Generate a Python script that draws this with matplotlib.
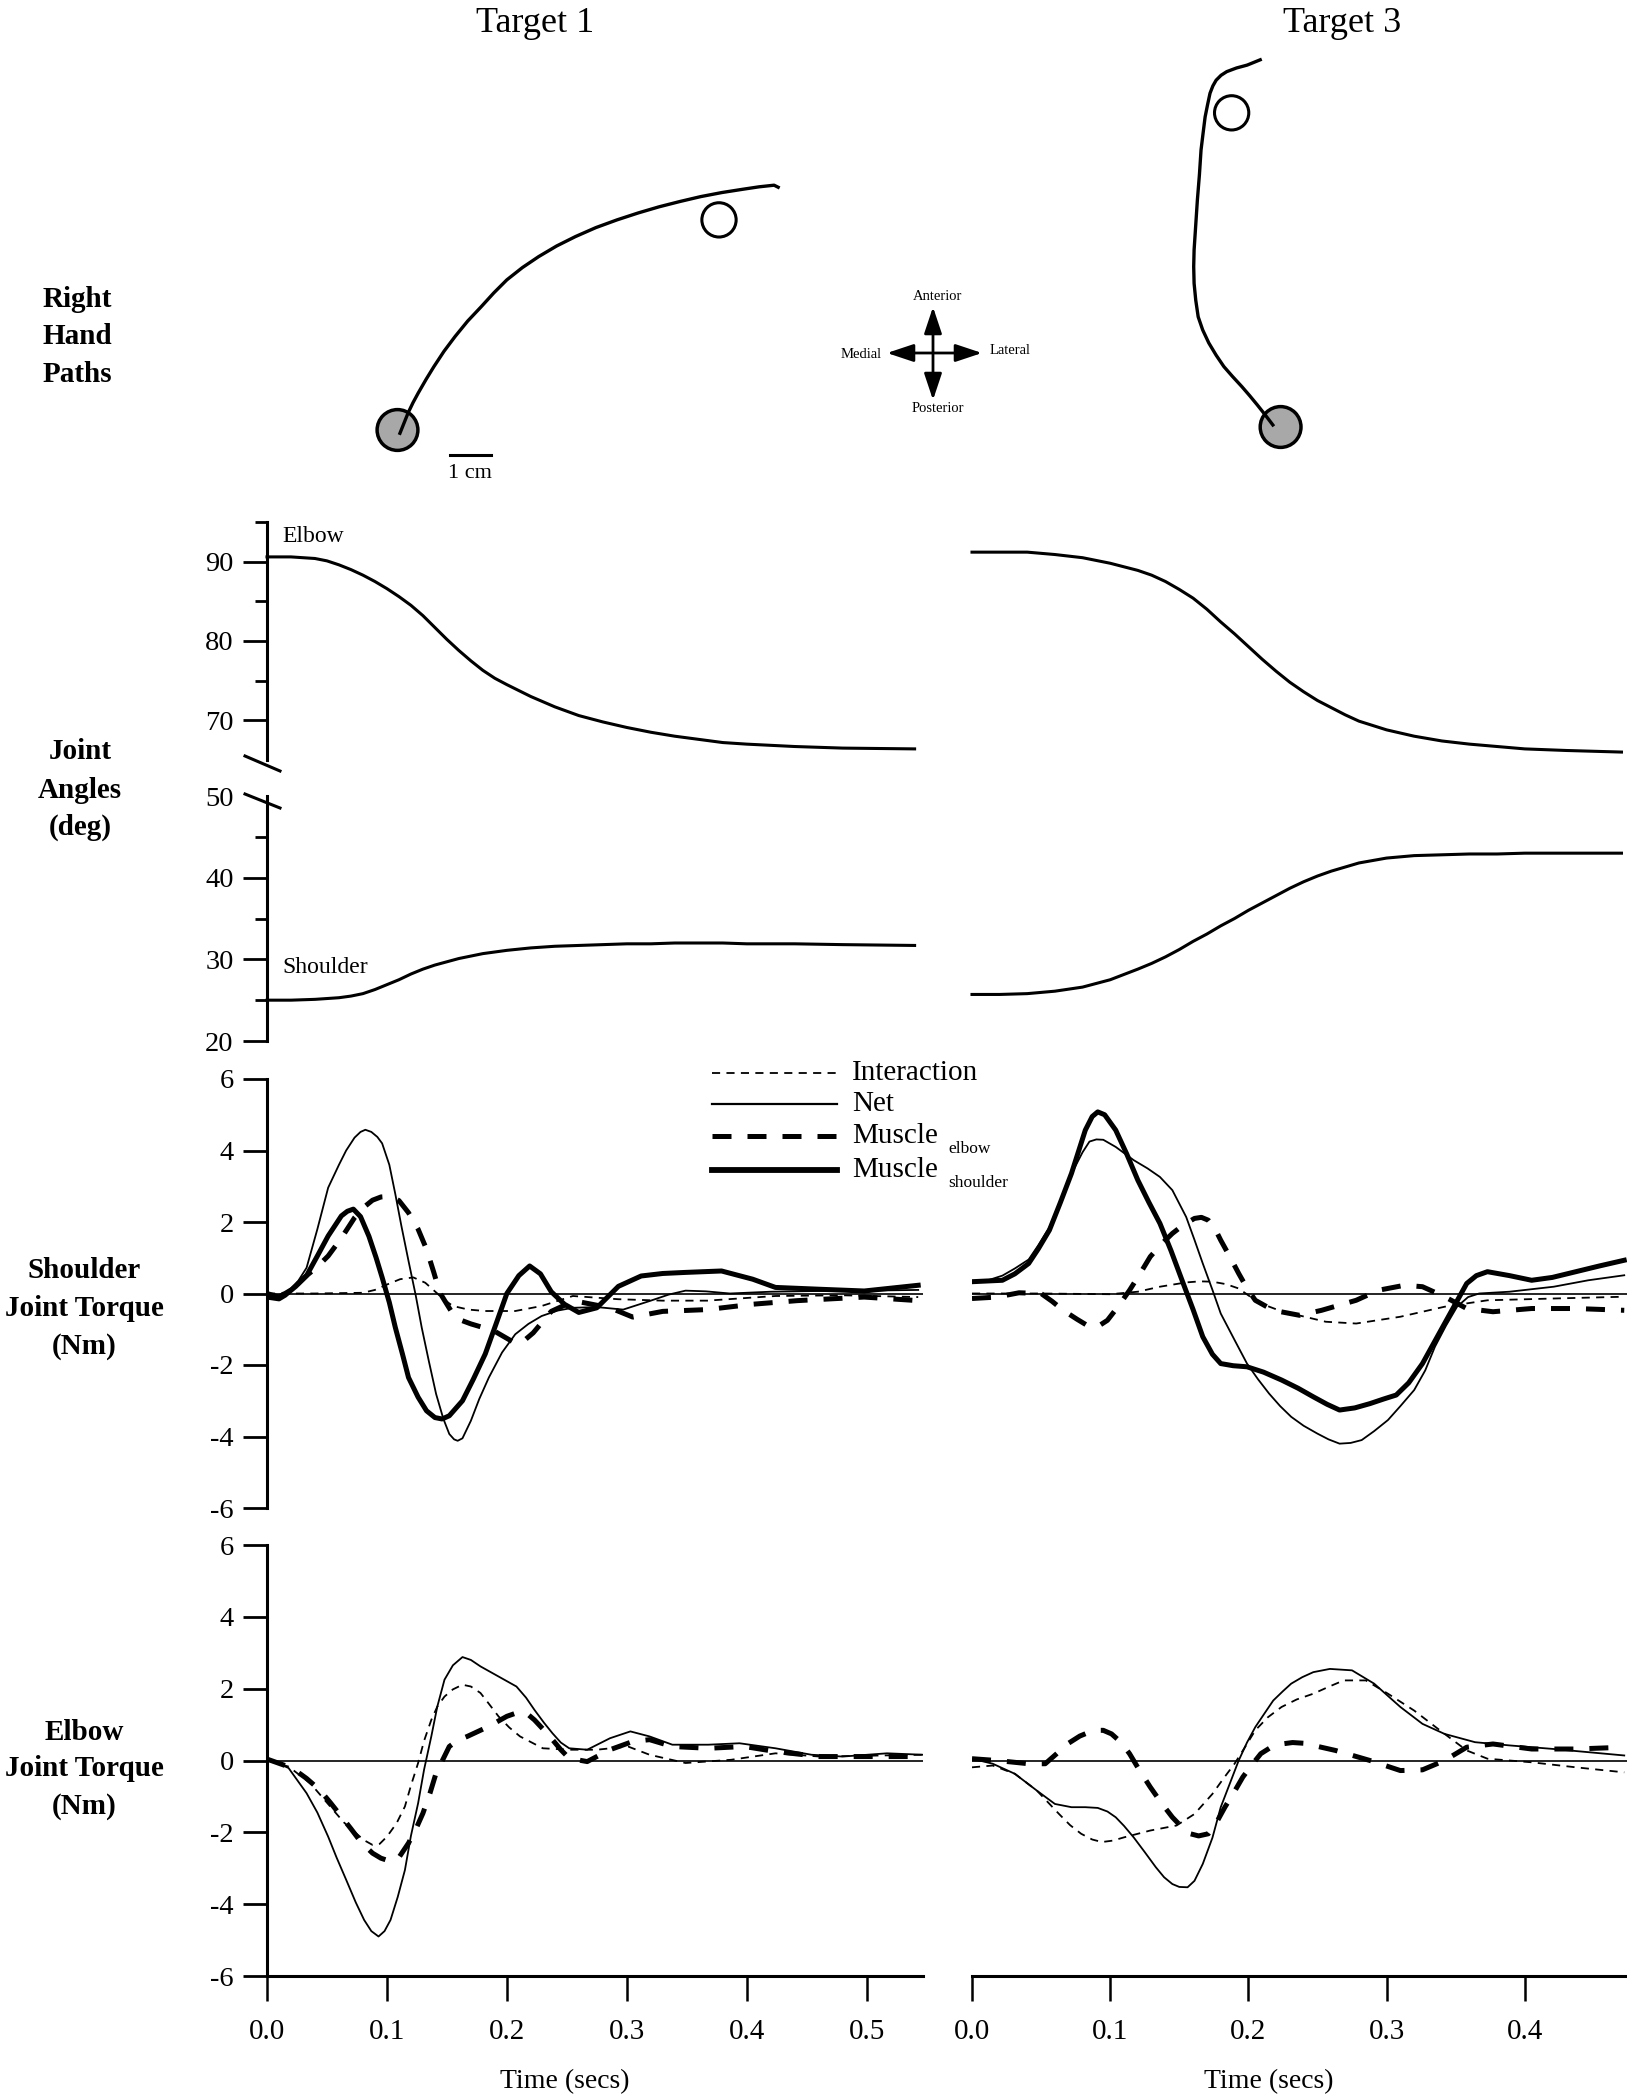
import matplotlib.pyplot as plt
import numpy as np
from matplotlib.lines import Line2D
from matplotlib.patches import Circle, FancyArrowPatch

plt.rcParams['font.family'] = ['Liberation Serif', 'DejaVu Serif']
plt.rcParams['axes.unicode_minus'] = False

W, H = 1627, 2100

# ---------------- data ----------------
# hand paths, cm relative to the start circle (x lateral, y anterior)
pathL_x = [0.06, 0.16, 0.26, 0.38, 0.51, 0.70, 0.89, 1.14, 1.41, 1.72, 2.05, 2.36, 2.68, 3.06, 3.46, 3.90, 4.36, 4.86, 5.38, 5.90, 6.41, 6.92, 7.43, 7.95, 8.46, 8.86, 9.23, 9.33]
pathL_y = [-0.08, 0.17, 0.42, 0.67, 0.91, 1.24, 1.55, 1.93, 2.29, 2.67, 3.02, 3.36, 3.68, 3.98, 4.25, 4.51, 4.74, 4.96, 5.15, 5.32, 5.47, 5.60, 5.72, 5.82, 5.90, 5.96, 6.00, 5.95]
targetL = (7.88, 5.15)
pathR_x = [-0.19, -0.38, -0.57, -0.76, -0.95, -1.18, -1.39, -1.58, -1.76, -1.91, -2.02, -2.08, -2.12, -2.13, -2.12, -2.08, -2.04, -1.99, -1.95, -1.90, -1.85, -1.79, -1.73, -1.66, -1.58, -1.46, -1.32, -1.08, -0.82, -0.50]
pathR_y = [0.05, 0.30, 0.54, 0.77, 0.99, 1.24, 1.48, 1.76, 2.06, 2.38, 2.70, 3.11, 3.52, 3.93, 4.34, 4.95, 5.56, 6.18, 6.79, 7.20, 7.60, 7.90, 8.18, 8.36, 8.50, 8.62, 8.71, 8.80, 8.87, 9.00]
targetR = (-1.20, 7.70)

# joint angles (deg)
t_angL = [0, .02, .04, .05, .06, .07, .08, .09, .10, .11, .12, .13, .14, .15, .16, .17, .18, .19, .20, .22, .24, .26, .28, .30, .32, .34, .36, .38, .40, .44, .48, .54]
elbowL = [90.6, 90.6, 90.4, 90.1, 89.6, 89.0, 88.3, 87.5, 86.6, 85.6, 84.5, 83.2, 81.7, 80.2, 78.8, 77.5, 76.3, 75.3, 74.5, 73.0, 71.7, 70.6, 69.8, 69.1, 68.5, 68.0, 67.6, 67.2, 67.0, 66.7, 66.5, 66.4]
shoulderL = [25.0, 25.0, 25.1, 25.2, 25.3, 25.5, 25.8, 26.3, 26.9, 27.5, 28.2, 28.8, 29.3, 29.7, 30.1, 30.4, 30.7, 30.9, 31.1, 31.4, 31.6, 31.7, 31.8, 31.9, 31.9, 32.0, 32.0, 32.0, 31.9, 31.9, 31.8, 31.7]
t_angR = [0, .02, .04, .06, .08, .10, .12, .13, .14, .15, .16, .17, .18, .19, .20, .21, .22, .23, .24, .25, .26, .27, .28, .30, .32, .34, .36, .38, .40, .43, .47]
elbowR = [91.2, 91.2, 91.2, 90.9, 90.5, 89.8, 88.9, 88.3, 87.5, 86.5, 85.4, 84.0, 82.4, 80.9, 79.3, 77.7, 76.2, 74.8, 73.6, 72.5, 71.6, 70.7, 69.9, 68.8, 68.0, 67.4, 67.0, 66.7, 66.4, 66.2, 66.0]
shoulderR = [25.7, 25.7, 25.8, 26.1, 26.6, 27.5, 28.8, 29.5, 30.3, 31.2, 32.2, 33.1, 34.1, 35.0, 36.0, 36.9, 37.8, 38.7, 39.5, 40.2, 40.8, 41.3, 41.8, 42.4, 42.7, 42.8, 42.9, 42.9, 43.0, 43.0, 43.0]

# shoulder joint torque (Nm), target 1
t_net_sL = [0, .01, .02, .026, .033, .042, .051, .06, .066, .073, .078, .082, .087, .092, .096, .102, .107, .112, .118, .124, .129, .135, .141, .147, .152, .156, .159, .163, .170, .177, .185, .196, .207, .218, .229, .242, .255, .275, .297, .320, .335, .349, .366, .386, .42, .46, .50, .543]
net_sL = [-0.1, -0.05, 0.15, 0.35, 0.72, 1.8, 2.96, 3.6, 4.0, 4.36, 4.52, 4.58, 4.52, 4.38, 4.2, 3.6, 2.78, 1.9, 0.91, -0.05, -0.95, -1.9, -2.81, -3.5, -3.93, -4.08, -4.12, -4.05, -3.56, -2.95, -2.35, -1.65, -1.14, -0.85, -0.63, -0.48, -0.4, -0.38, -0.45, -0.2, -0.03, 0.08, 0.06, 0.0, 0.05, 0.07, 0.08, 0.1]
t_msh_sL = [0, .01, .015, .024, .033, .042, .051, .062, .067, .072, .078, .085, .091, .096, .102, .107, .113, .118, .126, .133, .14, .146, .152, .163, .172, .182, .191, .200, .210, .219, .228, .237, .248, .260, .275, .293, .312, .33, .349, .379, .405, .424, .46, .498, .543]
msh_sL = [-0.1, -0.15, -0.05, 0.2, 0.5, 1.05, 1.61, 2.17, 2.3, 2.36, 2.15, 1.6, 1.0, 0.45, -0.25, -0.95, -1.7, -2.35, -2.9, -3.28, -3.47, -3.51, -3.42, -3.0, -2.4, -1.69, -0.85, 0.0, 0.5, 0.77, 0.55, 0.05, -0.3, -0.53, -0.4, 0.2, 0.49, 0.56, 0.59, 0.63, 0.4, 0.17, 0.12, 0.07, 0.23]
t_mel_sL = [0, .01, .022, .033, .042, .051, .062, .073, .081, .088, .095, .103, .11, .118, .126, .133, .139, .144, .15, .155, .162, .170, .189, .208, .215, .222, .23, .237, .248, .260, .286, .305, .330, .367, .405, .442, .498, .543]
mel_sL = [0.0, -0.1, 0.15, 0.5, 0.75, 1.05, 1.55, 2.12, 2.42, 2.61, 2.7, 2.72, 2.6, 2.26, 1.8, 1.24, 0.6, 0.03, -0.3, -0.57, -0.75, -0.85, -1.04, -1.41, -1.3, -1.1, -0.78, -0.5, -0.33, -0.23, -0.4, -0.66, -0.5, -0.45, -0.3, -0.2, -0.1, -0.2]
t_int_sL = [0, .04, .08, .09, .10, .111, .122, .132, .141, .148, .155, .168, .182, .207, .229, .255, .293, .33, .367, .424, .48, .543]
int_sL = [0.0, 0.0, 0.02, 0.1, 0.25, 0.4, 0.45, 0.3, 0.03, -0.18, -0.35, -0.45, -0.49, -0.49, -0.35, -0.07, -0.16, -0.2, -0.2, -0.07, -0.05, -0.1]

# shoulder joint torque (Nm), target 3
t_net_sR = [0, .01, .022, .031, .041, .048, .056, .064, .072, .08, .085, .09, .095, .104, .117, .127, .136, .145, .155, .161, .167, .174, .18, .19, .199, .207, .215, .223, .231, .24, .25, .258, .266, .274, .282, .291, .301, .31, .32, .328, .335, .343, .351, .359, .367, .389, .421, .446, .472]
net_sR = [0.33, 0.35, 0.5, 0.7, 0.95, 1.35, 1.85, 2.6, 3.35, 3.95, 4.25, 4.31, 4.3, 4.1, 3.73, 3.5, 3.26, 2.89, 2.14, 1.5, 0.84, 0.1, -0.56, -1.3, -1.96, -2.4, -2.8, -3.15, -3.45, -3.7, -3.92, -4.08, -4.2, -4.18, -4.1, -3.85, -3.54, -3.15, -2.7, -2.15, -1.49, -0.9, -0.37, -0.1, 0.0, 0.05, 0.19, 0.37, 0.51]
t_msh_sR = [0, .022, .031, .041, .048, .056, .064, .072, .082, .087, .091, .096, .104, .112, .12, .128, .136, .144, .152, .16, .167, .174, .18, .189, .199, .211, .224, .236, .247, .257, .266, .277, .288, .298, .307, .316, .326, .334, .342, .35, .358, .365, .373, .389, .405, .42, .437, .454, .472]
msh_sR = [0.33, 0.37, 0.55, 0.84, 1.25, 1.77, 2.55, 3.36, 4.57, 4.95, 5.08, 5.0, 4.57, 3.9, 3.17, 2.55, 1.96, 1.2, 0.37, -0.45, -1.21, -1.7, -1.96, -2.02, -2.05, -2.2, -2.42, -2.65, -2.89, -3.1, -3.26, -3.2, -3.08, -2.95, -2.84, -2.5, -1.96, -1.4, -0.84, -0.28, 0.28, 0.5, 0.61, 0.5, 0.37, 0.45, 0.61, 0.77, 0.93]
t_mel_sR = [0, .018, .034, .05, .058, .066, .076, .085, .092, .098, .106, .114, .122, .129, .137, .145, .153, .161, .166, .171, .176, .18, .187, .193, .199, .205, .218, .237, .253, .278, .294, .313, .326, .342, .358, .377, .405, .437, .472]
mel_sR = [-0.14, -0.1, 0.02, 0.0, -0.22, -0.47, -0.72, -0.93, -0.9, -0.75, -0.35, 0.09, 0.58, 1.03, 1.38, 1.68, 1.92, 2.1, 2.13, 2.05, 1.8, 1.49, 1.0, 0.56, 0.15, -0.19, -0.47, -0.61, -0.47, -0.19, 0.09, 0.23, 0.19, -0.09, -0.42, -0.51, -0.42, -0.42, -0.47]
t_int_sR = [0, .05, .10, .12, .136, .155, .165, .174, .184, .193, .201, .209, .22, .231, .256, .278, .31, .342, .373, .421, .472]
int_sR = [0.0, 0.0, -0.02, 0.05, 0.19, 0.31, 0.34, 0.33, 0.26, 0.14, -0.08, -0.28, -0.44, -0.56, -0.79, -0.84, -0.65, -0.37, -0.19, -0.14, -0.09]

# elbow joint torque (Nm), target 1
t_net_eL = [0, .018, .033, .042, .051, .058, .066, .074, .081, .087, .093, .098, .103, .109, .115, .12, .126, .131, .137, .142, .148, .155, .163, .17, .178, .193, .208, .216, .223, .231, .238, .245, .252, .267, .286, .303, .319, .338, .368, .394, .424, .454, .48, .517, .547]
net_eL = [0.06, -0.21, -0.91, -1.45, -2.12, -2.7, -3.32, -3.95, -4.44, -4.75, -4.9, -4.75, -4.44, -3.8, -3.05, -2.1, -1.19, -0.25, 0.67, 1.5, 2.25, 2.65, 2.88, 2.8, 2.62, 2.34, 2.06, 1.75, 1.41, 1.05, 0.76, 0.5, 0.34, 0.3, 0.62, 0.81, 0.67, 0.44, 0.44, 0.48, 0.34, 0.16, 0.11, 0.2, 0.16]
t_int_eL = [0, .018, .036, .045, .055, .064, .074, .081, .088, .094, .10, .108, .115, .12, .126, .131, .137, .142, .148, .155, .163, .17, .178, .185, .193, .202, .211, .23, .252, .275, .301, .319, .349, .387, .424, .461, .547]
int_eL = [0.0, -0.17, -0.63, -0.98, -1.37, -1.72, -2.02, -2.22, -2.35, -2.32, -2.12, -1.75, -1.28, -0.7, -0.07, 0.55, 1.13, 1.5, 1.78, 1.98, 2.11, 2.06, 1.88, 1.58, 1.23, 0.92, 0.67, 0.34, 0.3, 0.3, 0.39, 0.16, -0.07, 0.02, 0.2, 0.11, 0.16]
t_mel_eL = [0, .021, .033, .044, .053, .062, .07, .077, .083, .088, .095, .103, .11, .118, .124, .13, .136, .141, .147, .152, .159, .167, .185, .2, .211, .217, .223, .23, .238, .245, .252, .267, .286, .305, .319, .338, .368, .398, .424, .461, .498, .547]
mel_eL = [0.04, -0.21, -0.5, -0.82, -1.18, -1.56, -1.9, -2.21, -2.42, -2.58, -2.72, -2.81, -2.7, -2.3, -1.92, -1.47, -0.9, -0.35, 0.05, 0.39, 0.56, 0.67, 0.95, 1.23, 1.36, 1.3, 1.13, 0.88, 0.58, 0.3, 0.06, -0.03, 0.3, 0.53, 0.58, 0.39, 0.34, 0.39, 0.25, 0.11, 0.11, 0.11]

# elbow joint torque (Nm), target 3
t_net_eR = [0, .015, .031, .047, .06, .072, .082, .091, .098, .104, .11, .117, .125, .133, .139, .145, .15, .156, .161, .167, .174, .18, .187, .193, .199, .205, .212, .218, .225, .231, .239, .247, .259, .275, .291, .31, .326, .342, .364, .389, .421, .472]
net_eR = [0.05, -0.09, -0.37, -0.84, -1.21, -1.3, -1.3, -1.32, -1.42, -1.58, -1.82, -2.14, -2.55, -2.97, -3.25, -3.44, -3.52, -3.53, -3.35, -2.88, -2.15, -1.3, -0.6, 0.0, 0.5, 0.93, 1.33, 1.67, 1.93, 2.14, 2.32, 2.46, 2.55, 2.51, 2.14, 1.49, 1.02, 0.74, 0.51, 0.42, 0.32, 0.14]
t_int_eR = [0, .015, .031, .047, .063, .071, .079, .087, .094, .102, .11, .129, .148, .161, .174, .182, .19, .198, .205, .214, .224, .235, .247, .258, .269, .285, .301, .32, .342, .358, .373, .405, .437, .472]
int_eR = [-0.19, -0.14, -0.37, -0.84, -1.49, -1.8, -2.04, -2.2, -2.27, -2.23, -2.14, -1.95, -1.81, -1.49, -0.93, -0.5, -0.09, 0.4, 0.84, 1.2, 1.49, 1.7, 1.86, 2.05, 2.23, 2.23, 1.86, 1.39, 0.74, 0.28, 0.05, -0.05, -0.19, -0.33]
t_mel_eR = [0, .018, .041, .053, .061, .069, .078, .088, .095, .101, .108, .114, .121, .129, .137, .145, .152, .158, .164, .171, .177, .183, .19, .196, .203, .209, .216, .224, .232, .24, .263, .288, .31, .326, .342, .358, .377, .405, .437, .472]
mel_eR = [0.05, 0.0, -0.09, -0.09, 0.18, 0.46, 0.68, 0.84, 0.84, 0.74, 0.5, 0.19, -0.26, -0.74, -1.18, -1.58, -1.86, -2.04, -2.1, -2.04, -1.72, -1.3, -0.86, -0.46, -0.1, 0.19, 0.36, 0.46, 0.5, 0.48, 0.28, 0.0, -0.28, -0.26, 0.0, 0.37, 0.46, 0.32, 0.32, 0.37]

xticks_L = [0.0, 0.1, 0.2, 0.3, 0.4, 0.5]
xticks_R = [0.0, 0.1, 0.2, 0.3, 0.4]

# ---------------- styles ----------------
NET = dict(color='k', lw=1.3, ls='-')
INT = dict(color='k', lw=1.3, ls=(0, (4.5, 3.5)))
MEL = dict(color='k', lw=3.6, ls=(0, (3.8, 3.2)))
MSH = dict(color='k', lw=3.6, ls='-')
ANG = dict(color='k', lw=2.2)

fig = plt.figure(figsize=(W / 100, H / 100), dpi=100)


def box(x0, y0, x1, y1):
    # pixel box, top-left origin -> figure rect
    return [x0 / W, 1 - y1 / H, (x1 - x0) / W, (y1 - y0) / H]


def fp(x, y):
    return x / W, 1 - y / H


def clean(ax, left=True, bottom=False):
    for s in ['top', 'right']:
        ax.spines[s].set_visible(False)
    ax.spines['left'].set_visible(left)
    ax.spines['bottom'].set_visible(bottom)
    ax.spines['left'].set_linewidth(2.2)
    ax.spines['bottom'].set_linewidth(2.2)
    ax.patch.set_alpha(0)
    ax.tick_params(axis='y', which='major', length=17, width=2, labelsize=20.5, pad=7, left=left, labelleft=left)
    ax.tick_params(axis='y', which='minor', length=9, width=2, left=left)
    ax.tick_params(axis='x', length=18, width=1.8, labelsize=21, pad=13, bottom=bottom, labelbottom=bottom)


# columns: left (target 1) and right (target 3)
cols = [dict(x0=267, x1=923, xmax=0.547, ticks=xticks_L, left=True),
        dict(x0=972, x1=1627, xmax=0.474, ticks=xticks_R, left=False)]

angles = [(t_angL, elbowL, shoulderL), (t_angR, elbowR, shoulderR)]
sh_tq = [(t_int_sL, int_sL, t_net_sL, net_sL, t_mel_sL, mel_sL, t_msh_sL, msh_sL),
         (t_int_sR, int_sR, t_net_sR, net_sR, t_mel_sR, mel_sR, t_msh_sR, msh_sR)]
el_tq = [(t_int_eL, int_eL, t_net_eL, net_eL, t_mel_eL, mel_eL),
         (t_int_eR, int_eR, t_net_eR, net_eR, t_mel_eR, mel_eR)]

for c, ang, st, et in zip(cols, angles, sh_tq, el_tq):
    # joint angles: broken axis
    au = fig.add_axes(box(c['x0'], 522, c['x1'], 760))
    al = fig.add_axes(box(c['x0'], 796, c['x1'], 1041))
    for a in (au, al):
        clean(a, left=c['left'])
        a.set_xlim(0, c['xmax'])
    au.set_ylim(65, 95)
    au.set_yticks([70, 80, 90])
    au.set_yticks([75, 85, 95], minor=True)
    al.set_ylim(20, 50)
    al.set_yticks([20, 30, 40, 50])
    al.set_yticks([25, 35, 45], minor=True)
    au.plot(ang[0], ang[1], clip_on=False, solid_joinstyle='round', **ANG)
    al.plot(ang[0], ang[2], clip_on=False, solid_joinstyle='round', **ANG)
    if c['left']:
        al.yaxis.get_major_ticks()[-1].tick1line.set_visible(False)
        au.text(0.0125, 93.2, 'Elbow', fontsize=17, va='center', ha='left')
        al.text(0.0125, 29.0, 'Shoulder', fontsize=17, va='center', ha='left')

    # shoulder joint torque
    ts = fig.add_axes(box(c['x0'], 1079, c['x1'], 1508))
    clean(ts, left=c['left'])
    ts.set_xlim(0, c['xmax'])
    ts.set_ylim(-6, 6)
    ts.set_yticks([-6, -4, -2, 0, 2, 4, 6])
    ts.axhline(0, color='k', lw=1.2)
    ts.plot(st[0], st[1], **INT)
    ts.plot(st[2], st[3], solid_joinstyle='round', **NET)
    ts.plot(st[4], st[5], **MEL)
    ts.plot(st[6], st[7], solid_joinstyle='round', **MSH)

    # elbow joint torque
    te = fig.add_axes(box(c['x0'], 1545, c['x1'], 1976))
    clean(te, left=c['left'], bottom=True)
    te.set_xlim(0, c['xmax'])
    te.set_ylim(-6, 6)
    te.set_yticks([-6, -4, -2, 0, 2, 4, 6])
    te.set_xticks(c['ticks'])
    te.set_xticklabels(['%.1f' % v for v in c['ticks']])
    te.axhline(0, color='k', lw=1.2)
    te.plot(et[0], et[1], **INT)
    te.plot(et[2], et[3], solid_joinstyle='round', **NET)
    te.plot(et[4], et[5], **MEL)

# axis break slashes
for (xa, ya, xb, yb) in [(245, 756, 280, 771), (245, 794, 280, 808)]:
    fig.add_artist(Line2D([xa / W, xb / W], [1 - ya / H, 1 - yb / H], color='k', lw=2.2))

# ---------------- hand paths ----------------
PX_CM = 40.8


def path_axes(px0, py0, px1, py1, sx, sy):
    a = fig.add_axes(box(px0, py0, px1, py1))
    a.set_xlim((px0 - sx) / PX_CM, (px1 - sx) / PX_CM)
    a.set_ylim((sy - py1) / PX_CM, (sy - py0) / PX_CM)
    a.axis('off')
    return a


apL = path_axes(150, 40, 900, 500, 397.5, 430)
apL.add_patch(Circle((0, 0), 0.5, facecolor='#a8a8a8', edgecolor='k', lw=2.5, zorder=1))
apL.plot(pathL_x, pathL_y, color='k', lw=2.4, solid_joinstyle='round', zorder=2)
apL.add_patch(Circle(targetL, 0.42, facecolor='white', edgecolor='k', lw=2.2, zorder=3))
apL.plot([1.29, 2.28], [-0.61, -0.61], color='k', lw=2.2)
apL.text(1.78, -1.07, '1 cm', fontsize=16, ha='center', va='center')

apR = path_axes(1050, 40, 1450, 500, 1280.6, 427)
apR.add_patch(Circle((0, 0), 0.5, facecolor='#a8a8a8', edgecolor='k', lw=2.5, zorder=1))
apR.plot(pathR_x, pathR_y, color='k', lw=2.4, solid_joinstyle='round', zorder=2)
apR.add_patch(Circle(targetR, 0.42, facecolor='white', edgecolor='k', lw=2.2, zorder=3))

# direction compass
for (pa, pb) in [((887, 353), (982, 353)), ((933, 307), (933, 400))]:
    fig.add_artist(FancyArrowPatch(fp(*pa), fp(*pb), transform=fig.transFigure,
                                   arrowstyle='<|-|>,head_length=0.9,head_width=0.3',
                                   mutation_scale=18, lw=2, color='k', shrinkA=0, shrinkB=0))
fig.text(*fp(938, 297), 'Anterior', fontsize=10.5, ha='center', va='center')
fig.text(*fp(938, 408), 'Posterior', fontsize=10.5, ha='center', va='center')
fig.text(*fp(882, 354), 'Medial', fontsize=10.5, ha='right', va='center')
fig.text(*fp(990, 351), 'Lateral', fontsize=10.5, ha='left', va='center')

# ---------------- legend ----------------
leg = [(1073, INT, 'Interaction', None), (1104, NET, 'Net', None),
       (1136, MEL, 'Muscle', 'elbow'), (1170, MSH, 'Muscle', 'shoulder')]
for y, st, lab, sub in leg:
    kw = dict(st)
    if st is NET:
        kw['lw'] = 1.6
    if st is MSH:
        kw['lw'] = 4.2
    fig.add_artist(Line2D([712 / W, 837 / W], [1 - y / H, 1 - y / H], **kw))
    fig.text(*fp(852, y), lab, fontsize=21, ha='left', va='center')
    if sub:
        fig.text(*fp(948, y + 13), sub, fontsize=12.5, ha='left', va='center')

# ---------------- titles and row labels ----------------
fig.text(*fp(535, 32), 'Target 1', fontsize=26, ha='center', va='baseline')
fig.text(*fp(1342, 32), 'Target 3', fontsize=26, ha='center', va='baseline')

rows = [(77, [300, 337, 375], ['Right', 'Hand', 'Paths']),
        (80, [752, 790, 827], ['Joint', 'Angles', '(deg)']),
        (84, [1270, 1309, 1347], ['Shoulder', 'Joint Torque', '(Nm)']),
        (84, [1732, 1769, 1806], ['Elbow', 'Joint Torque', '(Nm)'])]
for x, ys, labs in rows:
    for y, lab in zip(ys, labs):
        fig.text(*fp(x, y), lab, fontsize=21, fontweight='bold', ha='center', va='center')

fig.text(*fp(565, 2082), 'Time (secs)', fontsize=20, ha='center', va='center')
fig.text(*fp(1269, 2082), 'Time (secs)', fontsize=20, ha='center', va='center')

fig.savefig('out.png', dpi=100)
